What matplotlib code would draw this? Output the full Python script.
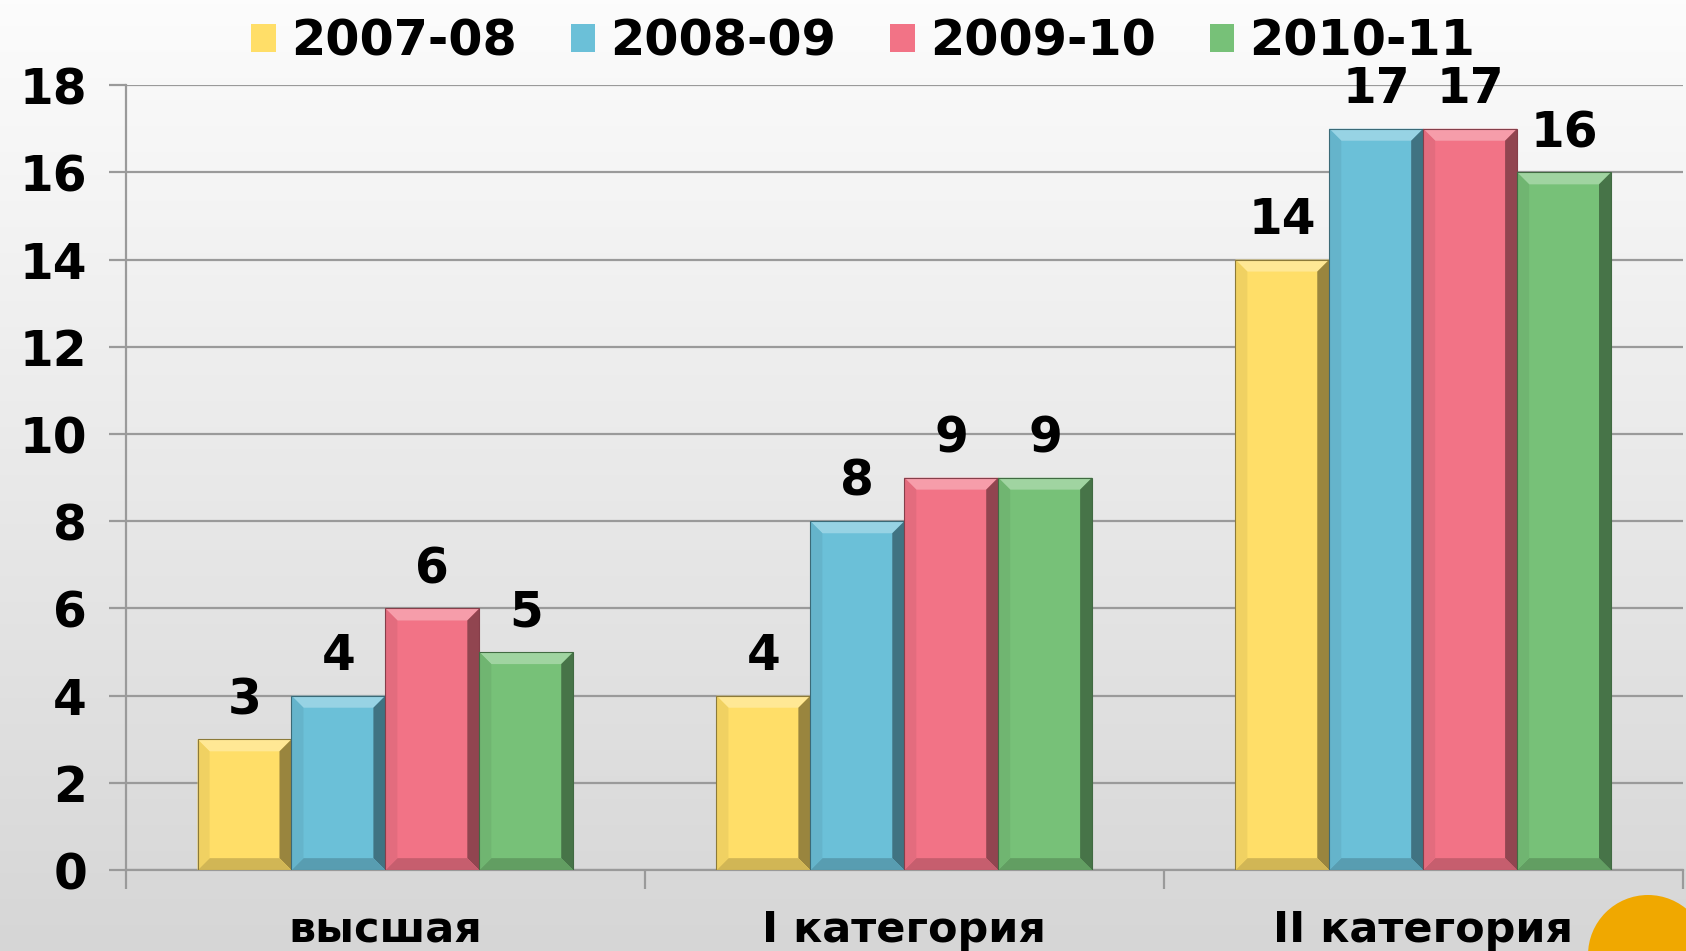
import matplotlib
matplotlib.use("Agg")
import matplotlib.pyplot as plt
import numpy as np
from matplotlib.patches import Polygon, Ellipse, Rectangle
from matplotlib.colors import to_rgb

categories = ["высшая", "I категория", "II категория"]
series = ["2007-08", "2008-09", "2009-10", "2010-11"]
values = {
    "2007-08": [3, 4, 14],
    "2008-09": [4, 8, 17],
    "2009-10": [6, 9, 17],
    "2010-11": [5, 9, 16],
}
colors = ["#FFDE68", "#6BC0D8", "#F27386", "#77C178"]
yticks = [0, 2, 4, 6, 8, 10, 12, 14, 16, 18]

plt.rcParams['font.family'] = ['DejaVu Sans']
plt.rcParams['font.weight'] = 'bold'

W, H = 1686, 951
fig = plt.figure(figsize=(W / 100, H / 100), dpi=100)

# background gradient
bg = fig.add_axes([0, 0, 1, 1], zorder=-10)
grad = np.linspace(0, 1, 256)[:, None]
top = np.array(to_rgb("#FCFCFC"))
bot = np.array(to_rgb("#D6D6D6"))
img = top[None, None, :] * (1 - grad[:, :, None]) + bot[None, None, :] * grad[:, :, None]
bg.imshow(img, aspect='auto', extent=[0, 1, 0, 1], origin='upper')
bg.set_axis_off()

ax = fig.add_axes([0.0747, 0.085, 0.9233, 0.8255])
ax.patch.set_alpha(0)

n = len(series)
x = np.arange(len(categories))
bw = 0.181
offsets = (np.arange(n) - (n - 1) / 2) * bw

ax.set_xlim(-0.5, len(categories) - 0.5)
ax.set_ylim(0, 18)

def shade(c, f):
    c = np.array(to_rgb(c))
    if f >= 0:
        return tuple(c + (1 - c) * f)
    return tuple(c * (1 + f))

bars_all = []
for i, s in enumerate(series):
    bars = ax.bar(x + offsets[i], values[s], width=bw, color=colors[i],
                  edgecolor='none', zorder=3, label=s)
    bars_all.append((bars, colors[i]))
    for b, v in zip(bars, values[s]):
        ax.annotate(str(v), (b.get_x() + b.get_width() / 2, v),
                    xytext=(0, 11), textcoords='offset points',
                    ha='center', va='bottom', fontsize=35, fontweight='bold',
                    color='black', zorder=5)

# bevel effect
fig.canvas.draw()
inv = ax.transData.inverted()
px = 12
for bars, c in bars_all:
    for b in bars:
        x0, y0 = b.get_x(), b.get_y()
        x1, y1 = x0 + b.get_width(), y0 + b.get_height()
        d0 = ax.transData.transform((x0, y0))
        dx = inv.transform((d0[0] + px, d0[1] + px))
        ex, ey = dx[0] - x0, dx[1] - y0
        polys = [
            ([(x0, y1), (x1, y1), (x1 - ex, y1 - ey), (x0 + ex, y1 - ey)], shade(c, 0.3)),
            ([(x1, y1), (x1, y0), (x1 - ex, y0 + ey), (x1 - ex, y1 - ey)], shade(c, -0.4)),
            ([(x0, y0), (x1, y0), (x1 - ex, y0 + ey), (x0 + ex, y0 + ey)], shade(c, -0.18)),
            ([(x0, y0), (x0, y1), (x0 + ex, y1 - ey), (x0 + ex, y0 + ey)], shade(c, -0.06)),
        ]
        for pts, col in polys:
            ax.add_patch(Polygon(pts, closed=True, facecolor=col, edgecolor='none', zorder=4))
        ax.add_patch(Rectangle((x0, y0), x1 - x0, y1 - y0, facecolor='none',
                               edgecolor=shade(c, -0.45), linewidth=0.8, zorder=4))

ax.set_yticks(yticks)
ax.set_yticklabels([str(t) for t in yticks], fontsize=35, fontweight='bold')
ax.yaxis.grid(True, color='#9A9A9A', linewidth=1.6, zorder=0)
ax.tick_params(axis='y', length=12, color='#9A9A9A', width=1.6, pad=16)

ax.set_xticks(np.arange(len(categories) + 1) - 0.5, minor=False)
ax.set_xticklabels([])
ax.tick_params(axis='x', length=14, color='#9A9A9A', width=1.6, direction='out')
ax.set_xticks(x, minor=True)
ax.set_xticklabels(categories, minor=True, fontsize=31, fontweight='bold')
ax.tick_params(axis='x', which='minor', length=0, pad=28)

for sp in ['top', 'right']:
    ax.spines[sp].set_visible(False)
for sp in ['left', 'bottom']:
    ax.spines[sp].set_color('#9A9A9A')
    ax.spines[sp].set_linewidth(1.6)

leg = fig.legend(loc='upper center', bbox_to_anchor=(0.512, 1.028), ncol=4,
                 frameon=False, prop={'weight': 'bold', 'size': 35.5},
                 handlelength=0.5, handleheight=0.5, handletextpad=0.3,
                 columnspacing=1.1)

# decorative orange circle
r = 60
fig.patches.append(Ellipse((1648 / W, 1 - 955 / H), 2 * r / W, 2 * r / H,
                           transform=fig.transFigure,
                           facecolor='#F0A800', edgecolor='none', zorder=20))

fig.savefig("out.png", dpi=100)
